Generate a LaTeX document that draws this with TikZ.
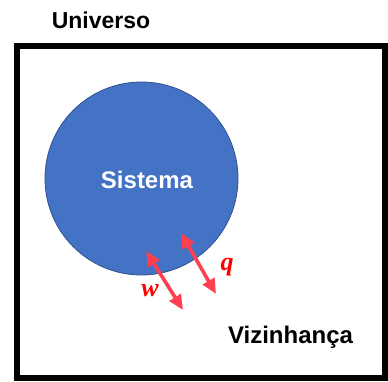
\documentclass[tikz,border=0pt]{standalone}
\usepackage{fontspec}
\setmainfont{Liberation Sans}
\newfontfamily\serifit{Liberation Serif}
\usetikzlibrary{arrows.meta}
\definecolor{sysblue}{HTML}{4472C4}
\definecolor{sysborder}{HTML}{2F528F}
\definecolor{arrred}{HTML}{FF3F4F}
\definecolor{symred}{HTML}{FF0000}
\tikzset{
  lbl/.style={font=\fontsize{23}{26}\selectfont\bfseries, anchor=base, inner sep=0pt},
  flow/.style={draw=arrred, line width=3.6pt, {Triangle[length=15pt,width=13pt]}-{Triangle[length=15pt,width=13pt]}},
  sym/.style={text=symred, font=\fontsize{26}{30}\selectfont\serifit\bfseries\itshape, anchor=base, inner sep=0pt}
}
\begin{document}
\begin{tikzpicture}[x=1pt,y=-1pt]
\useasboundingbox (0,0) rectangle (388,381);
\node[lbl] (univ) at (101,28) {Universo};
\draw[line width=6pt] (17,45.5) rectangle (385,378);
\node[circle, fill=sysblue, draw=sysborder, line width=0.8pt, minimum size=193pt, inner sep=0pt] (sys) at (141.5,178.5) {};
\node[lbl, text=white, font=\fontsize{24}{27}\selectfont\bfseries] (syslbl) at (147,188) {Sistema};
\node[lbl, font=\fontsize{24}{27}\selectfont\bfseries] (viz) at (290.5,343) {Vizinhança};
\coordinate (w1) at (146,251);
\coordinate (w2) at (183,310);
\coordinate (q1) at (181,233);
\coordinate (q2) at (216,294);
\draw[flow] (w1) -- (w2);
\draw[flow] (q1) -- (q2);
\node[sym] (wl) at (150,296) {w};
\node[sym] (ql) at (227,270) {q};
\end{tikzpicture}
\end{document}
